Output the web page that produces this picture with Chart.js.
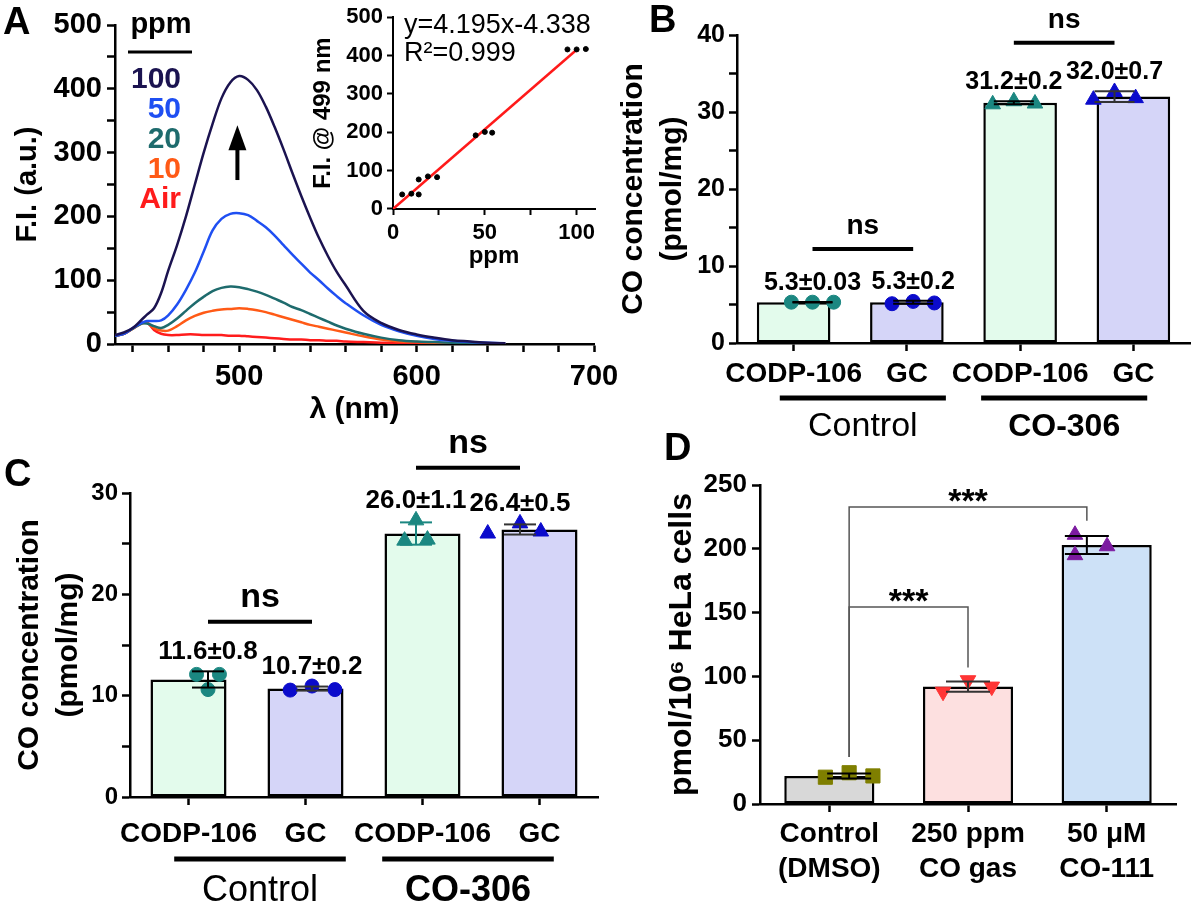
<!DOCTYPE html>
<html>
<head>
<meta charset="utf-8">
<script src="https://cdn.jsdelivr.net/npm/chart.js@4.4.0/dist/chart.umd.min.js"></script>
<style>
  html, body { margin: 0; padding: 0; background: #fff; }
  #wrap { position: relative; width: 1200px; height: 906px; overflow: hidden; }
  #wrap canvas { position: absolute; left: 0; top: 0; }
</style>
</head>
<body>
<div id="wrap">
  <canvas id="cA" width="1200" height="906"></canvas>
  <canvas id="cInset" width="1200" height="906"></canvas>
  <canvas id="cB" width="1200" height="906"></canvas>
  <canvas id="cC" width="1200" height="906"></canvas>
  <canvas id="cD" width="1200" height="906"></canvas>
</div>
<script>
const FONT = '"Liberation Sans", Arial, Helvetica, sans-serif';
Chart.defaults.font.family = FONT;
Chart.defaults.color = '#000';

// ---- Panel A: emission spectra (F.I. vs wavelength) ----
const wavelengths = [430,435,440,445,448,452,456,460,465,470,475,480,485,490,495,500,505,510,515,520,525,530,535,540,545,550,555,560,570,580,590,600,610,620,630,640,650];
const spectrum100 = [14,18,25,38,46,56,80,115,155,200,250,300,345,385,410,420,414,398,372,340,305,268,232,198,166,138,113,92,52,33,22,15,10,6,4,2,1];
const spectrum50  = [13,16,25,33,36,36,37,45,62,85,112,145,178,196,204,205,202,193,183,170,155,140,126,112,100,87,75,64,45,30,20,13,8,5,3,2,1];
const spectrum20  = [13,16,24,32,32,28,25,30,40,52,64,74,83,88,90,89,86,82,77,71,65,58,53,47,41,35,29,24,16,10,6,4,3,2,1,1,0];
const spectrum10  = [13,16,24,32,33,25,21,21,28,37,44,49,52,54,55,56,55,53,50,46,42,38,34,30,27,24,21,18,12,7,4,3,2,1,1,0,0];
const spectrumAir = [13,16,24,33,34,22,16,14,14,15,15,14,14,14,13,13,12,11,10,9,8,7,7,6,6,5,5,4,3,2,2,1,1,1,0,0,0];
const concLabels = ['100', '50', '20', '10', 'Air'];
const aXTicks = [440,460,480,500,520,540,560,580,600,620,640,660,680,700];
const aXLabels = [500, 600, 700];
const aYTicks = [0,50,100,150,200,250,300,350,400,450,500];
const aYLabels = [0,100,200,300,400,500];

// ---- Panel A inset: F.I. @ 499 nm vs ppm ----
const insetPpm = [5,10,14,14,19,24,45,50,54,95,100,105];
const insetFI  = [38,40,38,77,85,83,192,201,199,416,416,417];
const fitPpm = [0, 100];
const fitFI  = [0, 415];
const insetXTicks = [0,25,50,75,100];
const insetXLabels = [0,50,100];
const insetYTicks = [0,100,200,300,400,500];

// ---- Panel B ----
const bCategories = ['CODP-106', 'GC', 'CODP-106', 'GC'];
const bGroups = ['Control', 'CO-306'];
const bMeans = [5.3, 5.3, 31.2, 32.0];
const bSD = [0.03, 0.2, 0.2, 0.7];
const bReplicates = [[5.3,5.3,5.3],[5.1,5.4,5.2],[31.0,31.4,31.1],[31.6,32.6,31.8]];
const bYTicks = [0,5,10,15,20,25,30,35,40];
const bYLabels = [0,10,20,30,40];

// ---- Panel C ----
const cCategories = ['CODP-106', 'GC', 'CODP-106', 'GC'];
const cGroups = ['Control', 'CO-306'];
const cMeans = [11.6, 10.7, 26.0, 26.4];
const cSD = [0.8, 0.2, 1.1, 0.5];
const cReplicates = [[12.1,10.6,12.1],[10.55,10.95,10.6],[25.3,27.3,25.4],[26.0,27.0,26.2]];
const cYTicks = [0,5,10,15,20,25,30];
const cYLabels = [0,10,20,30];

// ---- Panel D ----
const dCategories = [['Control', '(DMSO)'], ['250 ppm', 'CO gas'], ['50 μM', 'CO-111']];
const dMeans = [22, 92, 203];
const dSD = [2, 4, 7];
const dReplicates = [[21,24.5,22],[88,97,92],[211,195,202]];
const dYTicks = [0,50,100,150,200,250];
const dSignif = ['***', '***'];

// ---- styles ----
const concColors = ['#1b1350', '#1f4ff2', '#1e6b6d', '#ff5a16', '#ff1c1c'];
const GREEN_BAR = '#e3fbec', LAV_BAR = '#d5d5f8';
const TEAL = '#1b8781', BLUE = '#0b0bcc';

function txt(ctx, s, x, y, size, o = {}) {
  ctx.save();
  ctx.font = `${o.weight || 'bold'} ${size}px ${FONT}`;
  ctx.fillStyle = o.color || '#000';
  ctx.textAlign = o.align || 'center';
  ctx.textBaseline = o.baseline || 'alphabetic';
  ctx.fillText(s, x, y);
  ctx.restore();
}
function seg(ctx, x1, y1, x2, y2, w, color) {
  ctx.save();
  ctx.strokeStyle = color || '#000';
  ctx.lineWidth = w;
  ctx.beginPath(); ctx.moveTo(x1, y1); ctx.lineTo(x2, y2); ctx.stroke();
  ctx.restore();
}

function linearAxis(o) {
  const ax = {
    type: 'linear', min: o.min, max: o.max,
    afterBuildTicks: s => { s.ticks = o.ticks.map(v => ({ value: v })); },
    border: { display: true, color: '#000', width: o.lw || 2.5 },
    grid: { display: true, drawOnChartArea: false, drawTicks: true, tickLength: o.tickLength || 8, tickColor: '#000', tickWidth: o.lw || 2.5 },
    ticks: { color: '#000', font: { size: o.fontSize, weight: 'bold' }, padding: o.padding, autoSkip: false, maxRotation: 0,
      callback: v => o.labels.includes(v) ? String(v) : '' },
    title: o.title ? { display: true, text: o.title, color: '#000',
      font: { size: o.titleSize, weight: 'bold', lineHeight: o.titleLH || 1.2 },
      padding: { top: o.titlePad || 0, bottom: o.titlePad || 0 } } : { display: false }
  };
  if (o.width) ax.afterFit = s => { s.width = o.width; };
  if (o.height) ax.afterFit = s => { s.height = o.height; };
  return ax;
}

function catAxis(o) {
  return {
    type: 'category', offset: true,
    afterFit: s => { s.height = o.height; },
    border: { display: true, color: '#000', width: 2.5 },
    grid: { display: true, offset: false, drawOnChartArea: false, drawTicks: true, tickLength: 8, tickColor: '#000', tickWidth: 2.5 },
    ticks: { color: '#000', font: { size: o.fontSize, weight: 'bold', lineHeight: o.lineHeight || 1.2 },
      padding: o.padding, autoSkip: false, maxRotation: 0, minRotation: 0 }
  };
}

function barSet(means, colors) {
  return { type: 'bar', data: means, backgroundColor: colors, borderColor: '#000', borderWidth: 2.5,
    borderSkipped: false, barPercentage: 0.65, categoryPercentage: 1, grouped: false, order: 2 };
}

function replicateSets(reps, jitters, styles) {
  return reps.map((vals, i) => ({
    type: 'scatter', xAxisID: 'xs', yAxisID: 'y', order: 1, clip: false,
    data: vals.map((v, j) => ({ x: i + jitters[i][j], y: v })),
    pointStyle: styles[i].shape, pointRotation: styles[i].rot || 0,
    pointRadius: styles[i].r, pointBackgroundColor: styles[i].color,
    pointBorderColor: styles[i].color, pointBorderWidth: 1
  }));
}

function drawErrorBars(chart, means, sds, cap, colors) {
  const { ctx } = chart, xs = chart.scales.xs, y = chart.scales.y;
  means.forEach((m, i) => {
    const x = xs.getPixelForValue(i);
    const t = y.getPixelForValue(m + sds[i]), b = y.getPixelForValue(m - sds[i]);
    const c = colors[i];
    seg(ctx, x, t, x, b, 2, c);
    seg(ctx, x - cap, t, x + cap, t, 2, c);
    seg(ctx, x - cap, b, x + cap, b, 2, c);
  });
}

function drawMeanLabels(chart, means, sds, reps, size) {
  const { ctx } = chart, xs = chart.scales.xs, y = chart.scales.y;
  means.forEach((m, i) => {
    const top = Math.max(m + sds[i], ...reps[i]);
    const py = y.getPixelForValue(top) - 12;
    txt(ctx, m.toFixed(1) + '±' + sds[i], xs.getPixelForValue(i), py, size);
  });
}

function drawNs(chart, i0, i1, level, size) {
  const { ctx } = chart, xs = chart.scales.xs, y = chart.scales.y;
  const x0 = xs.getPixelForValue(i0), x1 = xs.getPixelForValue(i1), py = y.getPixelForValue(level);
  seg(ctx, x0, py, x1, py, 4);
  txt(ctx, 'ns', (x0 + x1) / 2, py - 15, size);
}

function drawGroups(chart, groups, lineY, textY, sizes) {
  const { ctx } = chart, xs = chart.scales.xs;
  groups.forEach((g, k) => {
    const a = xs.getPixelForValue(2 * k - 0.325), b = xs.getPixelForValue(2 * k + 1.325);
    seg(ctx, a, lineY, b, lineY, 5);
    txt(ctx, g, (a + b) / 2, textY, sizes[k], { weight: k === 0 ? 'normal' : 'bold' });
  });
}

// ---------- Panel A ----------
const spectra = [spectrum100, spectrum50, spectrum20, spectrum10, spectrumAir];
new Chart(document.getElementById('cA'), {
  type: 'line',
  data: {
    datasets: spectra.map((s, k) => ({
      label: concLabels[k],
      data: wavelengths.map((w, i) => ({ x: w, y: s[i] })),
      borderColor: concColors[k], borderWidth: 2.5, pointRadius: 0, tension: 0.35, fill: false
    }))
  },
  options: {
    responsive: false, animation: false,
    layout: { padding: { left: 0, top: 25, right: 606, bottom: 476 } },
    plugins: { legend: { display: false }, tooltip: { enabled: false } },
    scales: {
      x: linearAxis({ min: 430, max: 700, ticks: aXTicks, labels: aXLabels, fontSize: 29, padding: 8, height: 86,
                      title: 'λ (nm)', titleSize: 30, titlePad: 2 }),
      y: linearAxis({ min: 0, max: 500, ticks: aYTicks, labels: aYLabels, fontSize: 29, padding: 5, width: 115,
                      title: 'F.I. (a.u.)', titleSize: 29, titlePad: 11 })
    }
  },
  plugins: [{
    id: 'aDecor',
    afterDraw(chart) {
      const { ctx } = chart, x = chart.scales.x, y = chart.scales.y;
      txt(ctx, 'A', 3, 34, 38, { align: 'left' });
      txt(ctx, 'ppm', 161, 33, 29);
      seg(ctx, 128, 52, 192, 52, 3);
      concLabels.forEach((lab, k) => txt(ctx, lab, 181, 88 + 30 * k, 30, { align: 'right', color: concColors[k] }));
      const ax = x.getPixelForValue(499), tip = y.getPixelForValue(343), tail = y.getPixelForValue(257);
      seg(ctx, ax, tail, ax, tip + 20, 4);
      ctx.save(); ctx.fillStyle = '#000'; ctx.beginPath();
      ctx.moveTo(ax, tip); ctx.lineTo(ax - 9, tip + 25); ctx.lineTo(ax + 9, tip + 25); ctx.closePath(); ctx.fill();
      ctx.restore();
    }
  }]
});

// ---------- Panel A inset ----------
new Chart(document.getElementById('cInset'), {
  type: 'scatter',
  data: {
    datasets: [
      { type: 'line', data: fitPpm.map((v, i) => ({ x: v, y: fitFI[i] })), borderColor: '#ff1a1a', borderWidth: 2.5,
        pointRadius: 0, fill: false, order: 2 },
      { data: insetPpm.map((v, i) => ({ x: v, y: insetFI[i] })), pointRadius: 2.5, pointBackgroundColor: '#000',
        pointBorderColor: '#000', order: 1 }
    ]
  },
  options: {
    responsive: false, animation: false,
    layout: { padding: { left: 309, top: 15, right: 605, bottom: 635 } },
    plugins: { legend: { display: false }, tooltip: { enabled: false } },
    scales: {
      x: linearAxis({ min: 0, max: 110, ticks: insetXTicks, labels: insetXLabels, fontSize: 22, padding: 5, height: 62,
                      tickLength: 6, lw: 2, title: 'ppm', titleSize: 24, titlePad: 0 }),
      y: linearAxis({ min: 0, max: 500, ticks: insetYTicks, labels: insetYTicks, fontSize: 22, padding: 4, width: 84,
                      tickLength: 6, lw: 2, title: 'F.I. @ 499 nm', titleSize: 24, titlePad: 0 })
    }
  },
  plugins: [{
    id: 'insetDecor',
    afterDraw(chart) {
      const { ctx } = chart;
      txt(ctx, 'y=4.195x-4.338', 404, 33, 27, { align: 'left', weight: 'normal' });
      txt(ctx, 'R²=0.999', 404, 61, 27, { align: 'left', weight: 'normal' });
    }
  }]
});

// ---------- Panel B ----------
const jit = [-0.21, 0, 0.21];
new Chart(document.getElementById('cB'), {
  type: 'bar',
  data: {
    labels: bCategories,
    datasets: [
      barSet(bMeans, [GREEN_BAR, LAV_BAR, GREEN_BAR, LAV_BAR]),
      ...replicateSets(bReplicates, [jit, jit, jit, jit], [
        { shape: 'circle', r: 7, color: TEAL }, { shape: 'circle', r: 7, color: BLUE },
        { shape: 'triangle', r: 9, color: TEAL }, { shape: 'triangle', r: 9, color: BLUE }])
    ]
  },
  options: {
    responsive: false, animation: false,
    layout: { padding: { left: 614, top: 35, right: 1, bottom: 463 } },
    plugins: { legend: { display: false }, tooltip: { enabled: false } },
    scales: {
      x: catAxis({ height: 100, fontSize: 28, padding: 6 }),
      xs: { type: 'linear', display: false, min: -0.5, max: 3.5 },
      y: linearAxis({ min: 0, max: 40, ticks: bYTicks, labels: bYLabels, fontSize: 25, padding: 4, width: 123,
                      title: ['CO concentration', '(pmol/mg)'], titleSize: 30, titleLH: 1.3, titlePad: 0 })
    }
  },
  plugins: [{
    id: 'bDecor',
    afterDraw(chart) {
      const { ctx } = chart;
      drawErrorBars(chart, bMeans, bSD, 20, ['#000', '#000', '#000', '#333']);
      drawMeanLabels(chart, bMeans, bSD, bReplicates, 25);
      drawNs(chart, 0, 1, 12.2, 28);
      drawNs(chart, 2, 3, 39.0, 28);
      drawGroups(chart, bGroups, 398, 436, [34, 32]);
      txt(ctx, 'B', 649, 32, 38, { align: 'left' });
    }
  }]
});

// ---------- Panel C ----------
new Chart(document.getElementById('cC'), {
  type: 'bar',
  data: {
    labels: cCategories,
    datasets: [
      barSet(cMeans, [GREEN_BAR, LAV_BAR, GREEN_BAR, LAV_BAR]),
      ...replicateSets(cReplicates, [[-0.11, 0, 0.11], [-0.21, 0, 0.22], [-0.11, 0, 0.11], [-0.31, 0, 0.2]], [
        { shape: 'circle', r: 7, color: TEAL }, { shape: 'circle', r: 7, color: BLUE },
        { shape: 'triangle', r: 9, color: TEAL }, { shape: 'triangle', r: 9, color: BLUE }])
    ]
  },
  options: {
    responsive: false, animation: false,
    layout: { padding: { left: 10, top: 493, right: 602, bottom: 9 } },
    plugins: { legend: { display: false }, tooltip: { enabled: false } },
    scales: {
      x: catAxis({ height: 100, fontSize: 28, padding: 12 }),
      xs: { type: 'linear', display: false, min: -0.5, max: 3.5 },
      y: linearAxis({ min: 0, max: 30, ticks: cYTicks, labels: cYLabels, fontSize: 24, padding: 4, width: 120,
                      title: ['CO concentration', '(pmol/mg)'], titleSize: 30, titleLH: 1.3, titlePad: 0 })
    }
  },
  plugins: [{
    id: 'cDecor',
    afterDraw(chart) {
      const { ctx } = chart;
      drawErrorBars(chart, cMeans, cSD, 16, ['#000', '#333', TEAL, '#333']);
      drawMeanLabels(chart, cMeans, cSD, cReplicates, 26);
      drawNs(chart, 0, 1, 17.3, 34);
      drawNs(chart, 2, 3, 32.5, 34);
      drawGroups(chart, cGroups, 859, 901, [36, 36]);
      txt(ctx, 'C', 4, 486, 38, { align: 'left' });
    }
  }]
});

// ---------- Panel D ----------
new Chart(document.getElementById('cD'), {
  type: 'bar',
  data: {
    labels: dCategories,
    datasets: [
      barSet(dMeans, ['#d8d8d8', '#fde0e0', '#cde1f7']),
      ...replicateSets(dReplicates, [[-0.2, 0, 0.2], [-0.21, 0, 0.2], [-0.1, -0.1, 0.17]], [
        { shape: 'rect', r: 10, color: '#7f7f00' },
        { shape: 'triangle', r: 9, rot: 180, color: '#ff3535' },
        { shape: 'triangle', r: 9, color: '#7c1ba0' }])
    ]
  },
  options: {
    responsive: false, animation: false,
    layout: { padding: { left: 663, top: 485, right: 24, bottom: 2 } },
    plugins: { legend: { display: false }, tooltip: { enabled: false } },
    scales: {
      x: catAxis({ height: 100, fontSize: 28, padding: 5, lineHeight: 1.25 }),
      xs: { type: 'linear', display: false, min: -0.5, max: 2.5 },
      y: linearAxis({ min: 0, max: 250, ticks: dYTicks, labels: dYTicks, fontSize: 26, padding: 5, width: 97,
                      title: 'pmol/10⁶ HeLa cells', titleSize: 32, titlePad: 0 })
    }
  },
  plugins: [{
    id: 'dDecor',
    afterDraw(chart) {
      const { ctx } = chart, xs = chart.scales.xs, y = chart.scales.y;
      drawErrorBars(chart, dMeans, dSD, 22, ['#000', '#333', '#000']);
      const brackets = [
        { to: 2, level: 232.8, leftEnd: 36.8, rightEnd: 222 },
        { to: 1, level: 154.4, leftEnd: 36.8, rightEnd: 107 }
      ];
      brackets.forEach((b, k) => {
        const x0 = xs.getPixelForValue(0), x1 = xs.getPixelForValue(b.to), py = y.getPixelForValue(b.level);
        ctx.save(); ctx.strokeStyle = '#555'; ctx.lineWidth = 1.5; ctx.beginPath();
        ctx.moveTo(x0, y.getPixelForValue(b.leftEnd)); ctx.lineTo(x0, py); ctx.lineTo(x1, py);
        ctx.lineTo(x1, y.getPixelForValue(b.rightEnd)); ctx.stroke(); ctx.restore();
        txt(ctx, dSignif[k], (x0 + x1) / 2, py + 5, 34);
      });
      txt(ctx, 'D', 664, 460, 38, { align: 'left' });
    }
  }]
});
</script>
</body>
</html>
